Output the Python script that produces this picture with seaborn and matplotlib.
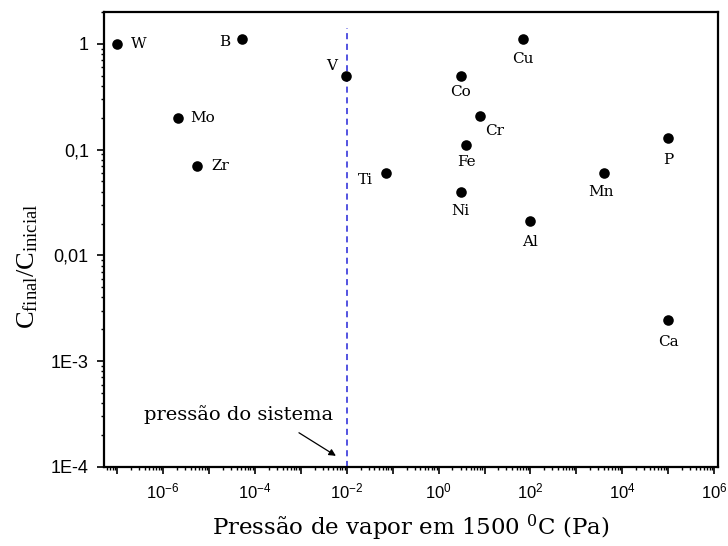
import numpy as np
import pandas as pd
import matplotlib
matplotlib.use("Agg")
import matplotlib.pyplot as plt
import matplotlib.ticker as mticker
import seaborn as sns

sns.set_theme(style="white")
plt.rcParams.update({
    'font.family': ['DejaVu Serif'],
    'mathtext.fontset': 'custom',
    'mathtext.rm': 'DejaVu Serif',
    'mathtext.sf': 'Liberation Sans',
    'axes.edgecolor': 'black',
    'axes.linewidth': 1.6,
    'text.color': 'black',
    'axes.labelcolor': 'black',
    'xtick.color': 'black',
    'ytick.color': 'black',
})

# data
elements = ['W', 'B', 'V', 'Mo', 'Zr', 'Ti', 'Cu', 'Co', 'Cr', 'Fe', 'Ni', 'Al', 'Mn', 'P', 'Ca']
pressure_pa = [1.0e-7, 5.2e-5, 9.5e-3, 2.1e-6, 5.5e-6, 0.07, 68, 3.0, 7.8, 4.0, 3.0, 100, 4000, 1.0e5, 1.0e5]
conc_ratio = [1.0, 1.1, 0.5, 0.2, 0.07, 0.06, 1.1, 0.5, 0.21, 0.11, 0.04, 0.021, 0.06, 0.13, 0.00245]

system_pressure = 1e-2
ytick_vals = [1e-4, 1e-3, 1e-2, 1e-1, 1]
ytick_labels = ['1E-4', '1E-3', '0,01', '0,1', '1']
xtick_exps = [-6, -4, -2, 0, 2, 4, 6]

df = pd.DataFrame({'element': elements, 'p': pressure_pa, 'c': conc_ratio})

# label placement (offset in points, alignment)
label_pos = {
    'W': (10, 0, 'left', 'center'),
    'B': (-8, -2, 'right', 'center'),
    'V': (-6, 7, 'right', 'center'),
    'Mo': (9, 0, 'left', 'center'),
    'Zr': (10, 0, 'left', 'center'),
    'Ti': (-9, -5, 'right', 'center'),
    'Cu': (0, -14, 'center', 'center'),
    'Co': (0, -12, 'center', 'center'),
    'Cr': (11, -11, 'center', 'center'),
    'Fe': (0, -12, 'center', 'center'),
    'Ni': (0, -14, 'center', 'center'),
    'Al': (0, -15, 'center', 'center'),
    'Mn': (-2, -14, 'center', 'center'),
    'P': (0, -16, 'center', 'center'),
    'Ca': (0, -16, 'center', 'center'),
}

fig, ax = plt.subplots(figsize=(7.28, 5.46), dpi=100)
fig.subplots_adjust(left=0.143, right=0.986, top=0.978, bottom=0.145)

sns.scatterplot(data=df, x='p', y='c', ax=ax, color='black', s=58,
                edgecolor='black', linewidth=0, zorder=3, legend=False)
ax.set_xscale('log')
ax.set_yscale('log')
ax.set_xlim(5.2e-8, 1.2e6)
ax.set_ylim(1e-4, 2)

ax.plot([system_pressure, system_pressure], [1e-4, 1.4], color='#2424d8',
        linestyle=(0, (4, 3)), linewidth=1.1, zorder=2)

for el, p, c in zip(elements, pressure_pa, conc_ratio):
    dx, dy, ha, va = label_pos[el]
    ax.annotate(el, (p, c), xytext=(dx, dy), textcoords='offset points',
                ha=ha, va=va, fontsize=11)

ax.text(4.35e-5, 3.1e-4, 'pressão do sistema', ha='center', va='center', fontsize=14)
ax.annotate('', xy=(5.8e-3, 1.27e-4), xytext=(9.1e-4, 2.1e-4),
            arrowprops=dict(arrowstyle='-|>', color='black', lw=0.9,
                            shrinkA=0, shrinkB=0, mutation_scale=10))

# ticks
ax.xaxis.set_major_locator(mticker.LogLocator(base=10, subs=[1.0], numticks=30))
ax.xaxis.set_major_formatter(mticker.FuncFormatter(
    lambda v, pos: r'$\mathsf{10^{%d}}$' % round(np.log10(v)) if round(np.log10(v)) in xtick_exps else ''))
ax.xaxis.set_minor_locator(mticker.LogLocator(base=10, subs=np.arange(2, 10), numticks=30))
ax.xaxis.set_minor_formatter(mticker.NullFormatter())
ax.yaxis.set_major_locator(mticker.FixedLocator(ytick_vals))
ax.yaxis.set_major_formatter(mticker.FixedFormatter(ytick_labels))
ax.yaxis.set_minor_locator(mticker.LogLocator(base=10, subs=np.arange(2, 10), numticks=30))
ax.yaxis.set_minor_formatter(mticker.NullFormatter())

ax.tick_params(which='major', direction='out', length=5, width=1.2, bottom=True, left=True, pad=6)
ax.tick_params(axis='x', which='major', labelsize=12)
ax.tick_params(axis='y', which='major', labelsize=13)
ax.tick_params(which='minor', direction='out', length=2.5, width=1.0, bottom=True, left=True)
for lbl in ax.get_yticklabels():
    lbl.set_fontfamily('Liberation Sans')

ax.set_xlabel(r'Pressão de vapor em 1500 $\mathregular{^{0}}$C (Pa)', fontsize=16.5, labelpad=8)
ax.set_ylabel(r'$\mathregular{C_{final}/C_{inicial}}$', fontsize=19,
              family='Liberation Serif')
ax.yaxis.set_label_coords(-0.105, 0.44)

fig.savefig('out.png', dpi=100)
